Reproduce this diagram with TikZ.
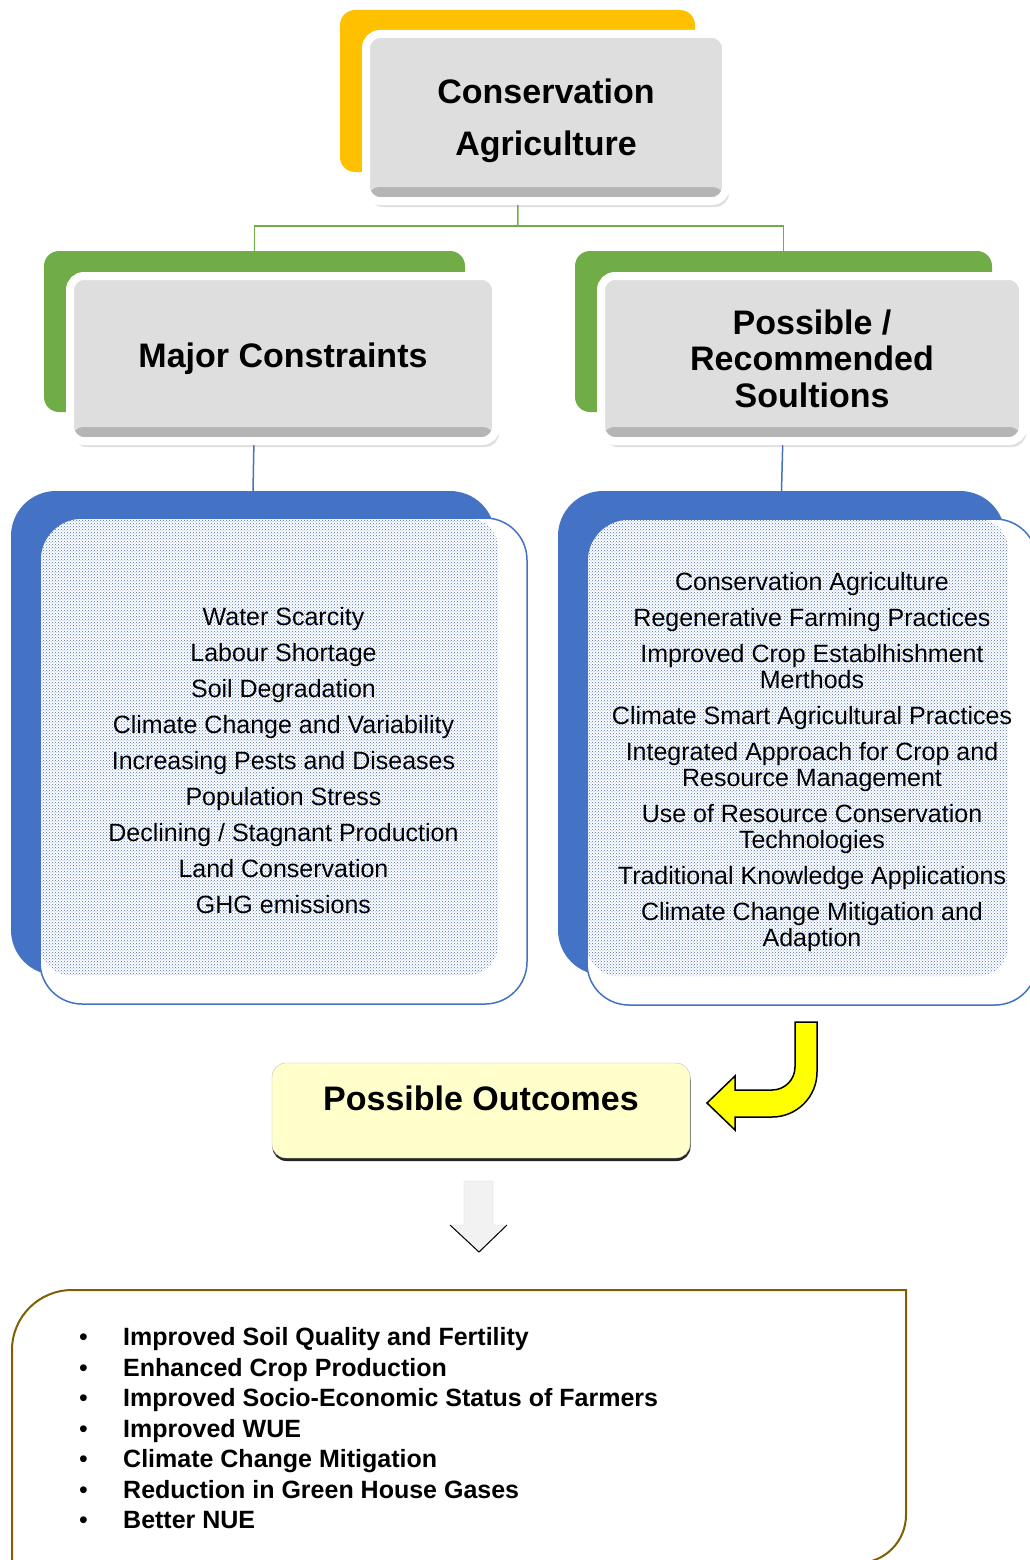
\documentclass[tikz,border=0pt]{standalone}
\usepackage{fontspec}
\setmainfont{Liberation Sans}
\usetikzlibrary{patterns,shadows}
\definecolor{capgold}{HTML}{FFC000}
\definecolor{leafgreen}{HTML}{70AD47}
\definecolor{panelblue}{HTML}{4472C4}
\definecolor{facegray}{HTML}{DEDEDE}
\definecolor{creamfill}{HTML}{FFFFCC}
\definecolor{olivebrown}{HTML}{7F6000}
\definecolor{arrowyellow}{HTML}{FFFF00}
\newcommand\bul{\makebox[44pt][l]{\mdseries\textbullet}}

\begin{document}
\begin{tikzpicture}[x=1pt, y=-1pt,
	plate/.style={rounded corners=15pt, inner sep=0pt, outer sep=0pt},
	facebox/.style={draw=white, line width=8pt, fill=facegray, rounded corners=14pt,
		inner sep=0pt, outer sep=0pt, align=center,
		drop shadow={opacity=0.25, shadow xshift=3pt, shadow yshift=-6pt},
		path picture={\shade[top color=facegray, bottom color=gray!60]
			([yshift=14pt]path picture bounding box.south west) rectangle (path picture bounding box.south east);}},
	panel/.style={draw=panelblue, line width=1.5pt, fill=white, rounded corners=42pt,
		inner sep=0pt, outer sep=0pt, align=center,
		path picture={\fill[pattern=crosshatch dots, pattern color=panelblue, rounded corners=30pt]
			(path picture bounding box.north west) rectangle ([xshift=-29pt,yshift=29pt]path picture bounding box.south east);}},
	greenline/.style={draw=leafgreen, line width=1.5pt},
	blueline/.style={draw=panelblue, line width=1.5pt}]
	\useasboundingbox[fill=white] (0,0) rectangle (1029,1560);

	% Farbige Hinterplatten
	\node[plate, fill=capgold, minimum width=355pt, minimum height=162pt] (caplate) at (517.5,91) {};
	\node[plate, fill=leafgreen, minimum width=421pt, minimum height=161pt] (mcplate) at (254.5,331.5) {};
	\node[plate, fill=leafgreen, minimum width=417pt, minimum height=161pt] (rsplate) at (783.5,331.5) {};
	\node[plate, fill=panelblue, rounded corners=45pt, minimum width=484pt, minimum height=484pt] (mcback) at (253,733) {};
	\node[plate, fill=panelblue, rounded corners=45pt, minimum width=447pt, minimum height=484pt] (rsback) at (781.5,733) {};

	% Verbindungslinien
	\coordinate (split) at (518,226);
	\draw[greenline] (caplate.south) -- (split);
	\draw[greenline] (mcplate.north) |- (split) -| (rsplate.north);
	\draw[blueline] (mcplate.south) -- (mcback.north);
	\draw[blueline] (rsplate.south) -- (rsback.north);

	% Kopfboxen
	\node[facebox, minimum width=360pt, minimum height=167pt, text depth=0pt, font=\fontsize{34}{52}\selectfont\bfseries] (ca) at (546,117.5) {Conservation\\Agriculture};
	\node[facebox, minimum width=426pt, minimum height=165pt, font=\fontsize{34}{37}\selectfont\bfseries] (mc) at (283,358.5) {Major Constraints};
	\node[facebox, minimum width=422pt, minimum height=165pt, font=\fontsize{34}{36.5}\selectfont\bfseries] (rs) at (812,358.5) {Possible /\\Recommended\\Soultions};

	% Listenfelder
	\node[panel, minimum width=487pt, minimum height=486pt, font=\fontsize{25}{36}\selectfont] (mclist) at (283.5,761)
		{Water Scarcity\\Labour Shortage\\Soil Degradation\\Climate Change and Variability\\Increasing Pests and Diseases\\Population Stress\\Declining / Stagnant Production\\Land Conservation\\GHG emissions};
	\node[panel, minimum width=450pt, minimum height=486pt, font=\fontsize{25}{26}\selectfont] (rslist) at (812,762)
		{Conservation Agriculture\\[10pt]Regenerative Farming Practices\\[10pt]Improved Crop Establhishment\\Merthods\\[10pt]Climate Smart Agricultural Practices\\[10pt]Integrated Approach for Crop and\\Resource Management\\[10pt]Use of Resource Conservation\\Technologies\\[10pt]Traditional Knowledge Applications\\[10pt]Climate Change Mitigation and\\Adaption};

	% Ergebnisbox
	\node[fill=creamfill, draw=black!25, rounded corners=14pt, minimum width=418pt, minimum height=95pt,
		font=\fontsize{34}{40}\selectfont\bfseries, text height=25pt, text depth=25pt,
		drop shadow={fill=black!85, opacity=1, shadow xshift=0.5pt, shadow yshift=-3pt}] (po) at (481,1110.5) {Possible Outcomes};

	% Gelber Bogenpfeil
	\draw[fill=arrowyellow, line width=1.5pt, line join=miter] (795,1022) -- (817,1022) -- (817,1072)
		arc[start angle=0, end angle=90, radius=45] -- (735,1117) -- (735,1130) -- (707,1103) -- (735,1076) -- (735,1090) -- (772,1090)
		arc[start angle=90, end angle=0, radius=23] -- cycle;

	% Grauer Pfeil nach unten
	\draw[fill=gray!10, draw=gray!35] (464,1181) -- (493,1181) -- (493,1225) -- (507,1225) -- (479,1252) -- (450,1225) -- (464,1225) -- cycle;
	\draw[line width=1pt] (450,1225) -- (479,1252) -- (507,1225);

	% Ergebnisliste
	\draw[olivebrown, line width=2pt, fill=white] (12,1566) -- (12,1350) arc[start angle=180, end angle=270, radius=60]
		-- (906,1290) -- (906,1515) arc[start angle=0, end angle=90, radius=48] -- (12,1563) -- cycle;
	\node[anchor=west, align=left, inner sep=0pt, font=\fontsize{25}{30.5}\selectfont\bfseries] (outlist) at (79,1428.5)
		{\bul Improved Soil Quality and Fertility\\\bul Enhanced Crop Production\\\bul Improved Socio-Economic Status of Farmers\\\bul Improved WUE\\\bul Climate Change Mitigation\\\bul Reduction in Green House Gases\\\bul Better NUE};
\end{tikzpicture}
\end{document}
